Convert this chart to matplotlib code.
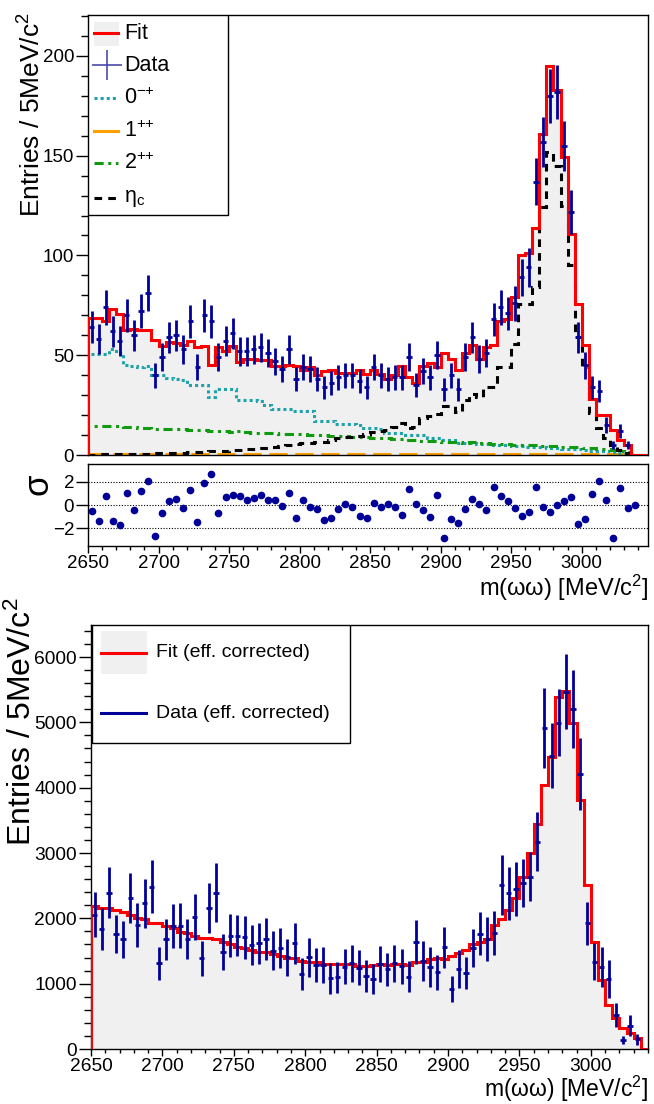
# %%
# omega omega invariant mass fit, ROOT-style figure redone in matplotlib
import numpy as np
import matplotlib
matplotlib.use('Agg')
import matplotlib.pyplot as plt
from matplotlib.patches import Rectangle
from matplotlib.ticker import MultipleLocator

plt.rcParams['font.family'] = ['Liberation Sans', 'DejaVu Sans']
plt.rcParams['mathtext.default'] = 'regular'

# %%
# Section Zero: values (5 MeV bins starting at 2650)

# top panel: event counts (77 filled bins)
data_top = [64, 58, 74, 62, 57, 70, 60, 72, 81, 40,
            49, 59, 60, 53, 67, 44, 70, 67, 49, 57,
            61, 52, 52, 53, 54, 51, 47, 43, 53, 38,
            44, 43, 38, 34, 36, 39, 40, 40, 37, 34,
            44, 40, 38, 39, 39, 49, 35, 42, 39, 50,
            33, 40, 33, 49, 59, 48, 51, 68, 74, 71,
            76, 89, 94, 137, 157, 180, 182, 155, 122, 59,
            45, 34, 32, 15, 5, 12, 5]

# total fit (80 bins)
fit_top = [68.7, 68.7, 67.2, 73.3, 70.8, 62.5, 63.3, 62.5, 62.5, 57.5,
           54.5, 56.5, 56.0, 55.0, 57.0, 54.0, 54.5, 45.3, 54.0, 52.0,
           54.5, 46.5, 48.3, 48.0, 47.5, 47.5, 44.5, 44.5, 45.2, 44.8,
           42.5, 44.0, 40.0, 42.0, 42.7, 41.0, 41.0, 41.0, 42.8, 40.7,
           42.6, 40.5, 38.0, 40.2, 44.5, 39.3, 36.0, 44.5, 46.0, 44.2,
           51.0, 48.0, 42.5, 51.0, 55.0, 48.0, 54.0, 55.0, 67.0, 68.0,
           79.0, 100.0, 101.0, 114.0, 160.8, 195.0, 182.8, 149.2, 110.8, 75.8,
           55.0, 28.3, 20.0, 20.0, 12.5, 7.5, 5.0, 0.0, 0.0, 0.0]

# 0-+ component
zero_mp = [50.5, 50.5, 50.8, 53.3, 51.0, 45.0, 44.5, 44.0, 44.5, 40.0,
           40.0, 38.5, 38.2, 37.5, 35.3, 35.3, 35.3, 29.2, 33.3, 33.0,
           33.3, 27.5, 27.5, 27.5, 27.3, 25.0, 23.3, 23.3, 23.3, 22.0,
           22.0, 22.0, 17.2, 17.2, 17.2, 15.5, 15.3, 15.3, 15.0, 13.3,
           13.3, 13.0, 11.2, 11.2, 11.0, 10.0, 10.0, 9.8, 8.3, 8.3,
           7.5, 7.5, 6.0, 5.8, 5.8, 5.6, 5.3, 5.0, 5.0, 4.8,
           4.5, 4.3, 4.2, 4.0, 3.8, 3.6, 3.4, 3.2, 3.0, 2.8,
           2.5, 2.2, 2.0, 1.8, 1.5, 1.2, 0.8, 0.0, 0.0, 0.0]

# 1++ component
one_pp = [0.5, 0.5, 0.5, 0.5, 0.5, 0.5, 0.5, 0.5, 0.5, 0.5,
          0.5, 0.5, 0.5, 0.5, 0.5, 0.5, 0.5, 0.5, 0.5, 0.5,
          0.5, 0.5, 0.5, 0.5, 0.5, 0.5, 0.5, 0.5, 0.5, 0.5,
          0.5, 0.5, 0.5, 0.5, 0.5, 0.5, 0.5, 0.5, 0.5, 0.5,
          0.5, 0.5, 0.5, 0.5, 0.5, 0.5, 0.5, 0.5, 0.5, 0.5,
          0.5, 0.5, 0.5, 0.5, 0.5, 0.5, 0.5, 0.5, 0.5, 0.5,
          0.5, 0.5, 0.5, 0.5, 0.5, 0.5, 0.5, 0.5, 0.5, 0.5,
          0.5, 0.5, 0.5, 0.5, 0.4, 0.3, 0.2, 0.0, 0.0, 0.0]

# 2++ component
two_pp = [14.5, 14.6, 14.4, 14.7, 14.3, 13.9, 14.0, 13.7, 13.6, 13.2,
          13.0, 13.1, 12.8, 12.9, 12.6, 12.4, 12.5, 12.2, 12.0, 11.9,
          11.6, 11.8, 11.4, 11.2, 11.0, 10.9, 10.8, 10.6, 10.5, 10.3,
          10.4, 10.1, 10.0, 9.9, 9.6, 9.4, 9.3, 9.2, 8.9, 8.8,
          8.6, 8.5, 8.3, 8.0, 7.9, 7.6, 7.4, 7.2, 7.0, 6.8,
          6.6, 6.5, 6.3, 6.2, 6.4, 6.0, 5.8, 5.6, 5.4, 5.3,
          5.1, 5.0, 4.9, 4.8, 4.6, 4.5, 4.3, 4.1, 4.0, 3.8,
          3.6, 3.4, 3.2, 3.0, 2.6, 2.2, 1.5, 0.0, 0.0, 0.0]

# eta_c component
eta_c = [0.2, 0.3, 0.3, 0.4, 0.4, 0.5, 0.5, 0.6, 0.7, 0.8,
         0.9, 1.0, 1.1, 1.2, 1.3, 1.5, 1.6, 1.8, 2.0, 2.2,
         2.4, 2.6, 2.9, 3.1, 3.4, 3.7, 4.2, 4.6, 5.2, 5.5,
         5.8, 6.2, 6.4, 6.7, 7.5, 8.3, 9.0, 9.2, 9.7, 10.5,
         11.7, 12.0, 12.5, 14.0, 15.8, 13.3, 14.2, 18.3, 19.7, 20.3,
         24.7, 24.7, 21.7, 27.5, 30.8, 29.2, 34.2, 34.2, 44.2, 44.2,
         55.8, 75.8, 75.8, 84.2, 124.2, 151.7, 145.0, 125.0, 95.0, 59.2,
         44.2, 20.8, 13.3, 8.3, 5.0, 2.5, 0.8, 0.0, 0.0, 0.0]

# pulls (data - fit) / error
pulls = [-0.55, -1.33, 0.78, -1.39, -1.68, 1.04, -0.41, 1.19, 2.03, -2.64,
         -0.67, 0.35, 0.55, -0.26, 1.25, -1.45, 1.86, 2.61, -0.67, 0.67,
         0.84, 0.78, 0.46, 0.61, 0.87, 0.43, 0.43, -0.12, 1.04, -1.07,
         0.41, -0.14, -0.32, -1.30, -1.10, -0.35, 0.09, -0.14, -0.93, -1.13,
         0.20, -0.20, 0.12, -0.20, -0.87, 1.39, 0.06, -0.46, -1.04, 0.84,
         -2.78, -1.19, -1.54, -0.35, 0.52, 0.06, -0.41, 1.54, 0.81, 0.35,
         -0.26, -0.90, -0.58, 1.54, -0.20, -0.61, -0.03, 0.32, 0.72, -1.62,
         -1.16, 0.96, 2.09, 0.43, -2.78, 1.45, -0.23, 0.03]

# bottom panel: efficiency corrected yields (2650-3040)
data_eff = [2052, 1833, 2394, 1756, 1679, 2307, 1899, 2231, 2486, 1312,
            1679, 1884, 1884, 1679, 2016, 1389, 2154, 2394, 1490, 1735,
            1735, 1710, 1593, 1618, 1679, 1506, 1552, 1404, 1618, 1149,
            1404, 1286, 1286, 1082, 1098, 1261, 1312, 1246, 1118, 1067,
            1302, 1220, 1312, 1270, 1103, 1640, 1342, 1248, 1174, 1555,
            914, 1220, 1164, 1541, 1766, 1685, 1771, 2511, 2384, 2450,
            2537, 2639, 3175, 4911, 4492, 4997, 5472, 5202, 4211, 1925,
            1337, 1261, 1072, 521, 138, 357, 148]

err_eff = [345, 319, 390, 293, 286, 383, 332, 375, 403, 255,
           311, 337, 344, 306, 349, 268, 383, 446, 275, 326,
           314, 331, 306, 311, 319, 293, 306, 286, 311, 242,
           298, 263, 281, 235, 240, 268, 281, 263, 242, 230,
           281, 255, 281, 268, 237, 332, 306, 306, 265, 319,
           199, 293, 250, 293, 326, 337, 339, 459, 408, 408,
           370, 370, 446, 612, 497, 510, 574, 592, 548, 332,
           280, 306, 293, 178, 64, 161, 89]

fit_eff = [2195, 2164, 2164, 2130, 2093, 2050, 2011, 1990, 1925, 1925,
           1880, 1848, 1797, 1772, 1735, 1705, 1705, 1690, 1643, 1600,
           1560, 1542, 1520, 1490, 1480, 1450, 1429, 1400, 1389, 1350,
           1337, 1337, 1302, 1302, 1302, 1302, 1302, 1271, 1276, 1280,
           1300, 1290, 1300, 1300, 1290, 1337, 1337, 1370, 1389, 1380,
           1425, 1470, 1516, 1605, 1643, 1679, 1899, 1986, 2129, 2307,
           2639, 2997, 3446, 4043, 4477, 5395, 5487, 4997, 3813, 2511,
           1643, 1057, 674, 470, 327, 240, 163, 0]

# %%
# binning
edges_top = np.arange(2650, 3051, 5)
centers_top = edges_top[:-1] + 2.5
edges_eff = np.arange(2650, 3041, 5)
centers_eff = edges_eff[:-1] + 2.5

navy = '#000099'
gray = '#f0f0f0'
teal = '#1fa3a8'
orange = '#ffa000'
green = '#109a10'
xmax_top = 3047

W, H = 654, 1104
fig = plt.figure(figsize=(W / 100, H / 100), dpi=100)
ax1 = fig.add_axes([88 / W, 1 - 455 / H, 560 / W, 440 / H])
ax2 = fig.add_axes([88 / W, 1 - 546 / H, 560 / W, 82 / H])
ax3 = fig.add_axes([91 / W, 1 - 1049 / H, 557 / W, 424 / H])

# top panel
ax1.stairs(fit_top, edges_top, fill=True, color=gray, zorder=1)
ax1.stairs(one_pp, edges_top, color=orange, lw=2.2, ls=(0, (6, 2.5)), zorder=2)
ax1.stairs(zero_mp, edges_top, color=teal, lw=2.2, ls=(0, (1, 1)), zorder=2)
ax1.stairs(two_pp, edges_top, color=green, lw=2.2, ls=(0, (3, 1.5, 1, 1.5)), zorder=2)
ax1.stairs(eta_c, edges_top, color='black', lw=2.2, ls=(0, (2.5, 2)), zorder=2)
ax1.stairs(fit_top, edges_top, color='red', lw=2.2, zorder=3)
d = np.array(data_top, dtype=float)
ax1.errorbar(centers_top[:len(d)], d, yerr=np.sqrt(d), xerr=1.9, fmt='none',
             ecolor=navy, elinewidth=2, capsize=0, zorder=4)
ax1.set_xlim(2650, xmax_top)
ax1.set_ylim(0, 220.5)
ax1.yaxis.set_major_locator(MultipleLocator(50))
ax1.yaxis.set_minor_locator(MultipleLocator(10))
ax1.set_xticks([])

# pulls
ax2.plot(centers_top[:len(pulls)], pulls, 'o', color=navy, ms=4.5, zorder=3)
for v in (-2, 0, 2):
    ax2.axhline(v, color='black', lw=0.8, ls=(0, (1, 1.5)), zorder=1)
ax2.set_xlim(2650, xmax_top)
ax2.set_ylim(-3.5, 3.5)
ax2.set_yticks([-2, 0, 2])
ax2.xaxis.set_major_locator(MultipleLocator(50))
ax2.xaxis.set_minor_locator(MultipleLocator(10))

# efficiency corrected
ax3.stairs(fit_eff, edges_eff, fill=True, color=gray, zorder=1)
ax3.stairs(fit_eff, edges_eff, color='red', lw=2.2, zorder=3)
ax3.errorbar(centers_eff[:len(data_eff)], data_eff, yerr=err_eff, xerr=1.9,
             fmt='none', ecolor=navy, elinewidth=2, capsize=0, zorder=4)
ax3.set_xlim(2650, 3040)
ax3.set_ylim(0, 6490)
ax3.yaxis.set_major_locator(MultipleLocator(1000))
ax3.yaxis.set_minor_locator(MultipleLocator(200))
ax3.xaxis.set_major_locator(MultipleLocator(50))
ax3.xaxis.set_minor_locator(MultipleLocator(10))

for ax, fs in ((ax1, 13.5), (ax2, 13.5), (ax3, 13.8)):
    ax.tick_params(axis='y', which='major', direction='out', length=8.5,
                   width=1, pad=1.5, labelsize=fs, right=False)
    ax.tick_params(axis='y', which='minor', direction='out', length=5,
                   width=1, right=False)
    ax.tick_params(axis='x', which='major', direction='out', length=5,
                   width=1, pad=1.5, labelsize=fs, top=False)
    ax.tick_params(axis='x', which='minor', direction='out', length=3,
                   width=1, top=False)
    for s in ax.spines.values():
        s.set_linewidth(1)
        s.set_color('black')
ax1.tick_params(axis='x', which='both', length=0)

# axis titles
fig.text(32 / W, 1 - 12 / H, r'Entries / 5MeV/c$^2$', rotation=90,
         ha='center', va='top', fontsize=19)
fig.text(22 / W, 1 - 598 / H, r'Entries / 5MeV/c$^2$', rotation=90,
         ha='center', va='top', fontsize=23)
fig.text(38 / W, 1 - 484 / H, 'σ', rotation=90, ha='center', va='center',
         fontsize=25)
fig.text(648 / W, 1 - 603 / H, r'm(ωω) [MeV/c$^2$]', ha='right',
         va='bottom', fontsize=17)
fig.text(648 / W, 0.5 / H, r'm(ωω) [MeV/c$^2$]', ha='right',
         va='bottom', fontsize=16.5)

# top legend (drawn by hand to get the ROOT box)
ax1.add_patch(Rectangle((0, 0.545), 0.25, 0.455, transform=ax1.transAxes,
                        facecolor='white', edgecolor='black', lw=1, zorder=10))
ax1.add_patch(Rectangle((0.011, 0.93), 0.045, 0.055, transform=ax1.transAxes,
                        facecolor=gray, edgecolor='none', zorder=11))
rows = [(0.959, 'Fit'), (0.886, 'Data'), (0.811, r'$0^{{-}{+}}$'),
        (0.736, r'$1^{{+}{+}}$'), (0.664, r'$2^{{+}{+}}$'), (0.584, r'$η_c$')]
styles = [dict(color='red', lw=2.2), None,
          dict(color=teal, lw=2.2, ls=(0, (1, 1))),
          dict(color=orange, lw=2.2),
          dict(color=green, lw=2.2, ls=(0, (3, 1.5, 1, 1.5))),
          dict(color='black', lw=2.2, ls=(0, (2.5, 2)))]
for (yy, lab), st in zip(rows, styles):
    if st is None:
        ax1.plot([0.0335], [yy], marker='+', ms=22, mew=1.2, color='#4a4aaa',
                 transform=ax1.transAxes, zorder=12, clip_on=False)
    else:
        ax1.plot([0.011, 0.054], [yy, yy], transform=ax1.transAxes,
                 zorder=12, **st)
    ax1.text(0.064, yy, lab, transform=ax1.transAxes, fontsize=15.5,
             va='center', ha='left', zorder=12)

# bottom legend
ax3.add_patch(Rectangle((0.002, 0.722), 0.463, 0.278, transform=ax3.transAxes,
                        facecolor='white', edgecolor='black', lw=1, zorder=10))
ax3.add_patch(Rectangle((0.018, 0.885), 0.083, 0.1, transform=ax3.transAxes,
                        facecolor=gray, edgecolor='none', zorder=11))
ax3.plot([0.018, 0.099], [0.934, 0.934], color='red', lw=2.2,
         transform=ax3.transAxes, zorder=12)
ax3.plot([0.018, 0.099], [0.792, 0.792], color=navy, lw=2.2,
         transform=ax3.transAxes, zorder=12)
ax3.text(0.117, 0.934, 'Fit (eff. corrected)', transform=ax3.transAxes,
         fontsize=14, va='center', zorder=12)
ax3.text(0.117, 0.792, 'Data (eff. corrected)', transform=ax3.transAxes,
         fontsize=14, va='center', zorder=12)

fig.savefig('out.png', dpi=100)
